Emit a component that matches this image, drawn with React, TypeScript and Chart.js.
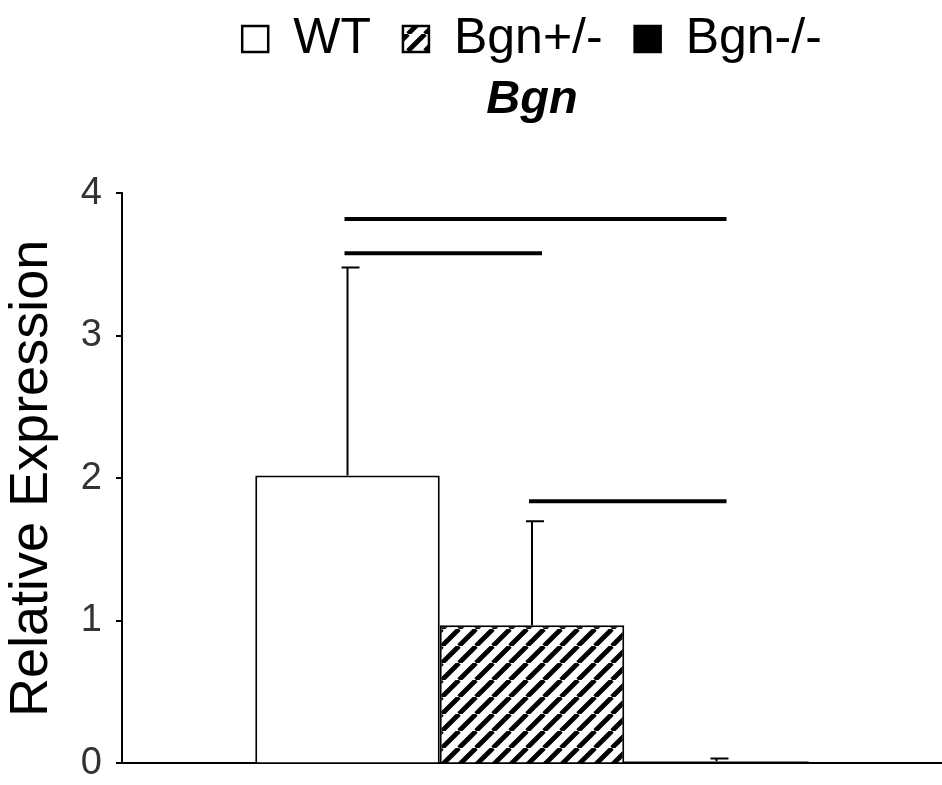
import React, { useEffect, useRef } from 'react';
import { Chart, registerables } from 'chart.js';

Chart.register(...registerables);

const categories = [''];
const seriesNames = ['WT', 'Bgn+/-', 'Bgn-/-'];
const seriesValues = [2.02, 0.97, 0.015];
const errorUp = [1.46, 0.73, 0.02];
const yTickValues = [0, 1, 2, 3, 4];
const sigFrom = [0, 0, 1];
const sigTo = [1, 2, 2];
const sigLevel = [3.58, 3.82, 1.84];

const FONT = "'Liberation Sans', Arial, sans-serif";

function makeHatch(): CanvasPattern | string {
  const s = 17;
  const c = document.createElement('canvas');
  c.width = s;
  c.height = s;
  const g = c.getContext('2d');
  if (!g) return '#888';
  g.fillStyle = '#fff';
  g.fillRect(0, 0, s, s);
  g.strokeStyle = '#000';
  g.lineWidth = 4.8;
  g.beginPath();
  for (let k = -1; k <= 1; k++) {
    g.moveTo(k * s, s);
    g.lineTo(k * s + s, 0);
  }
  g.stroke();
  const p = g.createPattern(c, 'repeat');
  return p || '#888';
}

const annotPlugin = {
  id: 'annot',
  afterDatasetsDraw(chart: any) {
    const ctx = chart.ctx;
    const ys = chart.scales.y;
    ctx.save();
    ctx.strokeStyle = '#000';
    ctx.lineWidth = 2;
    seriesValues.forEach((v, i) => {
      const bar = chart.getDatasetMeta(i).data[0];
      const x = bar.x;
      const y0 = ys.getPixelForValue(v);
      const y1 = ys.getPixelForValue(v + errorUp[i]);
      ctx.beginPath();
      ctx.moveTo(x, y0);
      ctx.lineTo(x, y1);
      ctx.moveTo(x - 6, y1);
      ctx.lineTo(x + 12, y1);
      ctx.stroke();
    });
    ctx.lineWidth = 4;
    sigLevel.forEach((lv, k) => {
      const a = chart.getDatasetMeta(sigFrom[k]).data[0].x;
      const b = chart.getDatasetMeta(sigTo[k]).data[0].x;
      const y = ys.getPixelForValue(lv);
      ctx.beginPath();
      ctx.moveTo(a - 3, y);
      ctx.lineTo(b + 10, y);
      ctx.stroke();
    });
    ctx.restore();
  },
};

export default function App() {
  const ref = useRef<HTMLCanvasElement | null>(null);
  useEffect(() => {
    document.body.style.margin = '0';
    if (!ref.current) return;
    const hatch = makeHatch();
    const fills = ['#ffffff', hatch, '#000000'];
    const chart = new Chart(ref.current, {
      type: 'bar',
      data: {
        labels: categories,
        datasets: seriesNames.map((n, i) => ({
          label: n,
          data: [seriesValues[i]],
          backgroundColor: fills[i] as any,
          borderColor: '#000',
          borderWidth: 2,
          borderSkipped: 'bottom',
          barPercentage: 1,
          categoryPercentage: 0.675,
        })),
      },
      options: {
        responsive: false,
        animation: false,
        layout: { padding: { top: -18, left: 0, right: 0, bottom: 4 } },
        plugins: {
          tooltip: { enabled: false },
          legend: {
            display: true,
            position: 'top',
            fullSize: false,
            weight: 3000,
            labels: {
              color: '#000',
              font: { family: FONT, size: 50 },
              boxWidth: 26,
              boxHeight: 26,
              padding: 32,
              generateLabels: () =>
                seriesNames.map((n, i) => ({
                  text: n,
                  fillStyle: fills[i] as any,
                  strokeStyle: '#000',
                  lineWidth: 2.5,
                  hidden: false,
                  datasetIndex: i,
                })),
            },
          } as any,
          title: {
            display: true,
            fullSize: false,
            text: 'Bgn',
            color: '#000',
            font: { family: FONT, size: 47, weight: 'bold', style: 'italic', lineHeight: 1.2 },
            padding: { top: -2, bottom: 65 },
          },
        },
        scales: {
          x: {
            grid: { display: false, drawTicks: false },
            ticks: { display: false },
            border: { display: true, color: '#000', width: 2 },
          },
          y: {
            min: 0,
            max: 4,
            afterBuildTicks: (s: any) => {
              s.ticks = yTickValues.map((v) => ({ value: v }));
            },
            afterFit: (s: any) => {
              s.width = 122;
            },
            ticks: {
              color: '#333',
              font: { family: FONT, size: 38, lineHeight: 0.4 },
              padding: 14,
            },
            grid: {
              display: true,
              drawOnChartArea: false,
              drawTicks: true,
              tickLength: 6,
              color: '#000',
              lineWidth: 2,
            },
            border: { display: true, color: '#000', width: 2 },
            title: {
              display: true,
              text: 'Relative Expression',
              color: '#000',
              font: { family: FONT, size: 54 },
              padding: 0,
            },
          },
        },
      },
      plugins: [annotPlugin],
    });
    return () => chart.destroy();
  }, []);
  return <canvas ref={ref} width={942} height={785} style={{ display: 'block' }} />;
}
